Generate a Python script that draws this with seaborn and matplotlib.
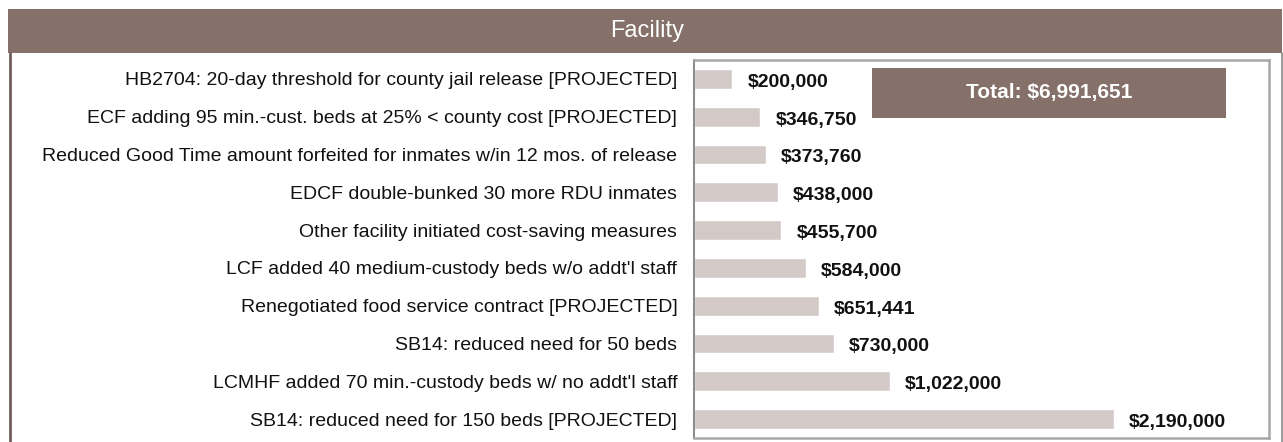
import matplotlib
matplotlib.use("Agg")
import matplotlib.pyplot as plt
import seaborn as sns
from matplotlib.patches import Rectangle
from matplotlib.lines import Line2D

# Data
measures = [
    "HB2704: 20-day threshold for county jail release [PROJECTED]",
    "ECF adding 95 min.-cust. beds at 25% < county cost [PROJECTED]",
    "Reduced Good Time amount forfeited for inmates w/in 12 mos. of release",
    "EDCF double-bunked 30 more RDU inmates",
    "Other facility initiated cost-saving measures",
    "LCF added 40 medium-custody beds w/o addt'l staff",
    "Renegotiated food service contract [PROJECTED]",
    "SB14: reduced need for 50 beds",
    "LCMHF added 70 min.-custody beds w/ no addt'l staff",
    "SB14: reduced need for 150 beds [PROJECTED]",
]
savings = [200000, 346750, 373760, 438000, 455700, 584000, 651441, 730000, 1022000, 2190000]
header_title = "Facility"

brown = "#857169"
bar_color = "#d3cac8"

sns.set_theme(style="white")
plt.rcParams['font.family'] = ['Liberation Sans', 'DejaVu Sans']

fig = plt.figure(figsize=(12.83, 4.42), dpi=100)
ax = fig.add_axes([694 / 1283, 4 / 442, 575 / 1283, 378 / 442])

sns.barplot(x=savings, y=measures, orient="h", color=bar_color, width=0.52,
            saturation=1, ax=ax)

ax.set_xlim(0, 3000000)
ax.set_xticks([])
ax.set_xlabel("")
ax.set_ylabel("")
ax.tick_params(axis="y", which="major", length=0, pad=12, labelsize=14,
               labelcolor="#111111")
ax.set_yticks([i + 0.5 for i in range(-1, len(measures))], minor=True)
ax.tick_params(axis="y", which="minor", length=5, width=1.2, color="#8c8c8c")

for side in ["top", "right", "bottom"]:
    ax.spines[side].set_color("#a8a8a8")
    ax.spines[side].set_linewidth(1.8)
ax.spines["left"].set_color("#8c8c8c")
ax.spines["left"].set_linewidth(1.5)

# value labels
for i, v in enumerate(savings):
    ax.annotate(f"${v:,.0f}", xy=(v, i), xytext=(11, -2.5), textcoords="offset points",
                ha="left", va="center", fontsize=14, fontweight="bold", color="#111111")

# total box
ax.add_patch(Rectangle((0.3096, 0.8466), 0.6154, 0.1324, transform=ax.transAxes,
                       facecolor=brown, edgecolor="none", zorder=5))
ax.text(0.6173, 0.913, f"Total: ${sum(savings):,.0f}", transform=ax.transAxes,
        ha="center", va="center", fontsize=15, fontweight="bold", color="white", zorder=6)

# header band and outer frame
fig.patches.append(Rectangle((8 / 1283, (442 - 52.7) / 442), 1274 / 1283, 43.7 / 442,
                             transform=fig.transFigure, facecolor=brown, edgecolor="none"))
fig.text(647 / 1283, (442 - 31) / 442, header_title, ha="center", va="center",
         fontsize=17, color="white")
fig.lines.append(Line2D([9.5 / 1283, 9.5 / 1283], [0, (442 - 52.7) / 442],
                        transform=fig.transFigure, color="#6f5f59", linewidth=2))
fig.lines.append(Line2D([1281.5 / 1283, 1281.5 / 1283], [0, (442 - 52.7) / 442],
                        transform=fig.transFigure, color="#8a8a8a", linewidth=1.2))

fig.savefig("out.png", dpi=100)
